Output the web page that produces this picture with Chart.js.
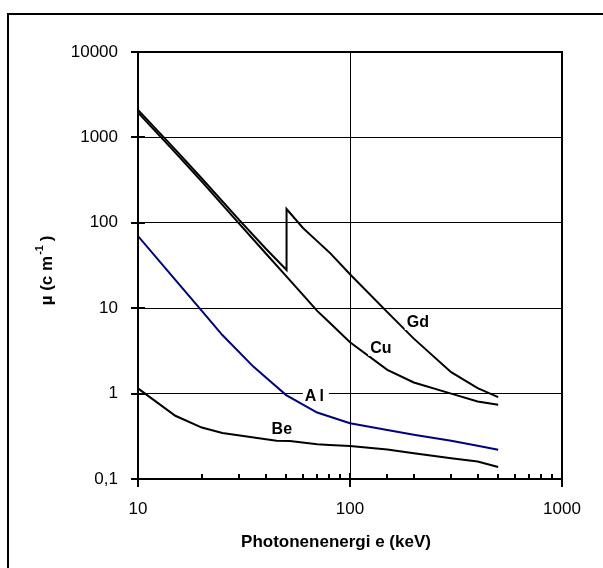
<!DOCTYPE html>
<html>
<head>
<meta charset="utf-8">
<title>Schwächungskoeffizient</title>
<script src="https://cdn.jsdelivr.net/npm/chart.js@4"></script>
<style>
  html, body { margin: 0; padding: 0; background: #fff; }
  #wrap { position: relative; width: 603px; height: 568px; overflow: hidden; }
  #frame { position: absolute; left: 7px; top: 13px; right: -4px; bottom: -4px;
           border-left: 2px solid #000; border-top: 2px solid #000; }
  canvas { position: absolute; left: 0; top: 0; }
</style>
</head>
<body>
<div id="wrap">
  <div id="frame"></div>
  <canvas id="chart" width="603" height="568"></canvas>
</div>
<script>
// ==== Daten (Energie in keV, mu in cm^-1) ====
const gdE  = [10, 15, 20, 30, 40, 50.2, 50.2, 60, 70, 80, 100, 150, 200, 300, 400, 500];
const gdMu = [2100, 720, 330, 108, 50, 28, 145, 87, 61, 45, 25, 9, 4.4, 1.78, 1.16, 0.91];

const cuE  = [10, 15, 20, 30, 40, 50, 60, 70, 80, 100, 150, 200, 300, 400, 500];
const cuMu = [1950, 663, 303, 98, 44, 23.7, 14.3, 9.3, 6.8, 4.0, 1.9, 1.35, 1.0, 0.81, 0.74];

const alE  = [10, 15, 20, 25, 35, 40, 50, 70, 100, 150, 200, 300, 400, 500];
const alMu = [70, 21.5, 9.3, 4.85, 2.07, 1.55, 0.96, 0.60, 0.45, 0.375, 0.33, 0.28, 0.245, 0.22];

const beE  = [10, 15, 20, 25, 45, 52, 70, 80, 100, 150, 200, 300, 400, 500];
const beMu = [1.15, 0.55, 0.40, 0.345, 0.28, 0.279, 0.255, 0.25, 0.244, 0.222, 0.20, 0.175, 0.16, 0.138];

// Beschriftungen der Kurven: Name, Energie, mu
const curveNames  = ['Gd', 'Cu', 'Al', 'Be'];
const curveLabelE = [209, 140, 69, 47.7];
const curveLabelMu = [6.9, 3.42, 0.96, 0.385];

// Achsen
const xTickValues = [10, 100, 1000];
const xTickLabels = ['10', '100', '1000'];
const yTickValues = [0.1, 1, 10, 100, 1000, 10000];
const yTickLabels = ['0,1', '1', '10', '100', '1000', '10000'];

const FONT = '"Liberation Sans", Arial, Helvetica, sans-serif';

function toPoints(xs, ys) {
  return xs.map((x, i) => ({ x: x, y: ys[i] }));
}

function isMajorX(v) {
  return xTickValues.some(t => Math.abs(t - v) < t * 1e-6);
}

function lineSet(label, xs, ys, color) {
  return {
    label: label,
    data: toPoints(xs, ys),
    borderColor: color,
    borderWidth: 2,
    pointRadius: 0,
    tension: 0,
    fill: false
  };
}

// ==== Rahmen, Striche, Beschriftungen ====
const deko = {
  id: 'deko',
  afterDatasetsDraw(chart) {
    const ctx = chart.ctx;
    const a = chart.chartArea;
    const xs = chart.scales.x;
    const ys = chart.scales.y;

    ctx.save();
    ctx.strokeStyle = '#000';
    ctx.lineWidth = 2;
    ctx.strokeRect(a.left, a.top, a.right - a.left, a.bottom - a.top);

    // y-Striche
    ys.ticks.forEach(t => {
      const py = Math.round(ys.getPixelForValue(t.value));
      const inner = py > a.top + 2 && py < a.bottom - 2;
      ctx.beginPath();
      ctx.moveTo(a.left - 7, py);
      ctx.lineTo(inner ? a.left + 7 : a.left, py);
      ctx.stroke();
    });

    // x-Striche (Haupt- und Nebenstriche)
    xs.ticks.forEach(t => {
      const px = Math.round(xs.getPixelForValue(t.value));
      ctx.beginPath();
      if (isMajorX(t.value)) {
        const inner = px > a.left + 2 && px < a.right - 2;
        ctx.moveTo(px, a.bottom + 8);
        ctx.lineTo(px, inner ? a.bottom - 6 : a.bottom);
      } else {
        ctx.moveTo(px, a.bottom);
        ctx.lineTo(px, a.bottom - 5);
      }
      ctx.stroke();
    });

    // Kurvennamen mit weißem Hintergrund
    ctx.font = 'bold 16px ' + FONT;
    ctx.textAlign = 'center';
    ctx.textBaseline = 'middle';
    curveNames.forEach((name, i) => {
      const px = xs.getPixelForValue(curveLabelE[i]);
      const py = ys.getPixelForValue(curveLabelMu[i]);
      ctx.letterSpacing = name === 'Al' ? '3px' : '0px';
      const w = ctx.measureText(name).width;
      ctx.fillStyle = '#fff';
      ctx.fillRect(px - w / 2 - 2, py - 8, w + 4, 16);
      ctx.fillStyle = '#000';
      ctx.fillText(name, px, py + 1);
    });
    ctx.letterSpacing = '0px';

    // x-Achsentitel
    ctx.font = 'bold 17px ' + FONT;
    ctx.fillText('Photonenenergi e (keV)', (a.left + a.right) / 2 - 14, a.bottom + 63);

    // y-Achsentitel mit Hochzahl
    ctx.translate(47, (a.top + a.bottom) / 2 + 5);
    ctx.rotate(-Math.PI / 2);
    const p1 = '\u00b5 (c m', p2 = '-1', p3 = ' )';
    ctx.font = 'bold 17px ' + FONT;
    const w1 = ctx.measureText(p1).width, w3 = ctx.measureText(p3).width;
    ctx.font = 'bold 11px ' + FONT;
    const w2 = ctx.measureText(p2).width;
    let x0 = -(w1 + w2 + w3) / 2;
    ctx.textAlign = 'left';
    ctx.font = 'bold 17px ' + FONT;
    ctx.fillText(p1, x0, 0);
    ctx.font = 'bold 11px ' + FONT;
    ctx.fillText(p2, x0 + w1 + 1, -7);
    ctx.font = 'bold 17px ' + FONT;
    ctx.fillText(p3, x0 + w1 + w2, 0);
    ctx.restore();
  }
};

// ==== Diagramm ====
const chart = new Chart(document.getElementById('chart').getContext('2d'), {
  type: 'line',
  data: {
    datasets: [
      lineSet('Gd', gdE, gdMu, '#000'),
      lineSet('Cu', cuE, cuMu, '#000'),
      lineSet('Al', alE, alMu, '#000080'),
      lineSet('Be', beE, beMu, '#000')
    ]
  },
  options: {
    responsive: false,
    animation: false,
    layout: { padding: { top: 52, right: 41, left: 0, bottom: 0 } },
    plugins: { legend: { display: false }, tooltip: { enabled: false } },
    scales: {
      x: {
        type: 'logarithmic',
        min: 10,
        max: 1000,
        afterFit: s => { s.height = 89; },
        border: { display: false },
        grid: {
          drawTicks: false,
          lineWidth: 1,
          color: c => (c.tick && isMajorX(c.tick.value)) ? '#000' : 'rgba(0,0,0,0)'
        },
        ticks: {
          autoSkip: false,
          maxRotation: 0,
          padding: 20,
          color: '#000',
          font: { family: FONT, size: 17 },
          callback: v => {
            const i = xTickValues.findIndex(t => Math.abs(t - v) < t * 1e-6);
            return i >= 0 ? xTickLabels[i] : '';
          }
        }
      },
      y: {
        type: 'logarithmic',
        min: 0.1,
        max: 10000,
        afterFit: s => { s.width = 138; },
        afterBuildTicks: s => { s.ticks = yTickValues.map(v => ({ value: v })); },
        border: { display: false },
        grid: { drawTicks: false, lineWidth: 1, color: '#000' },
        ticks: {
          autoSkip: false,
          padding: 20,
          color: '#000',
          font: { family: FONT, size: 17 },
          callback: v => {
            const i = yTickValues.findIndex(t => Math.abs(t - v) < t * 1e-6);
            return i >= 0 ? yTickLabels[i] : '';
          }
        }
      }
    }
  },
  plugins: [deko]
});
</script>
</body>
</html>
